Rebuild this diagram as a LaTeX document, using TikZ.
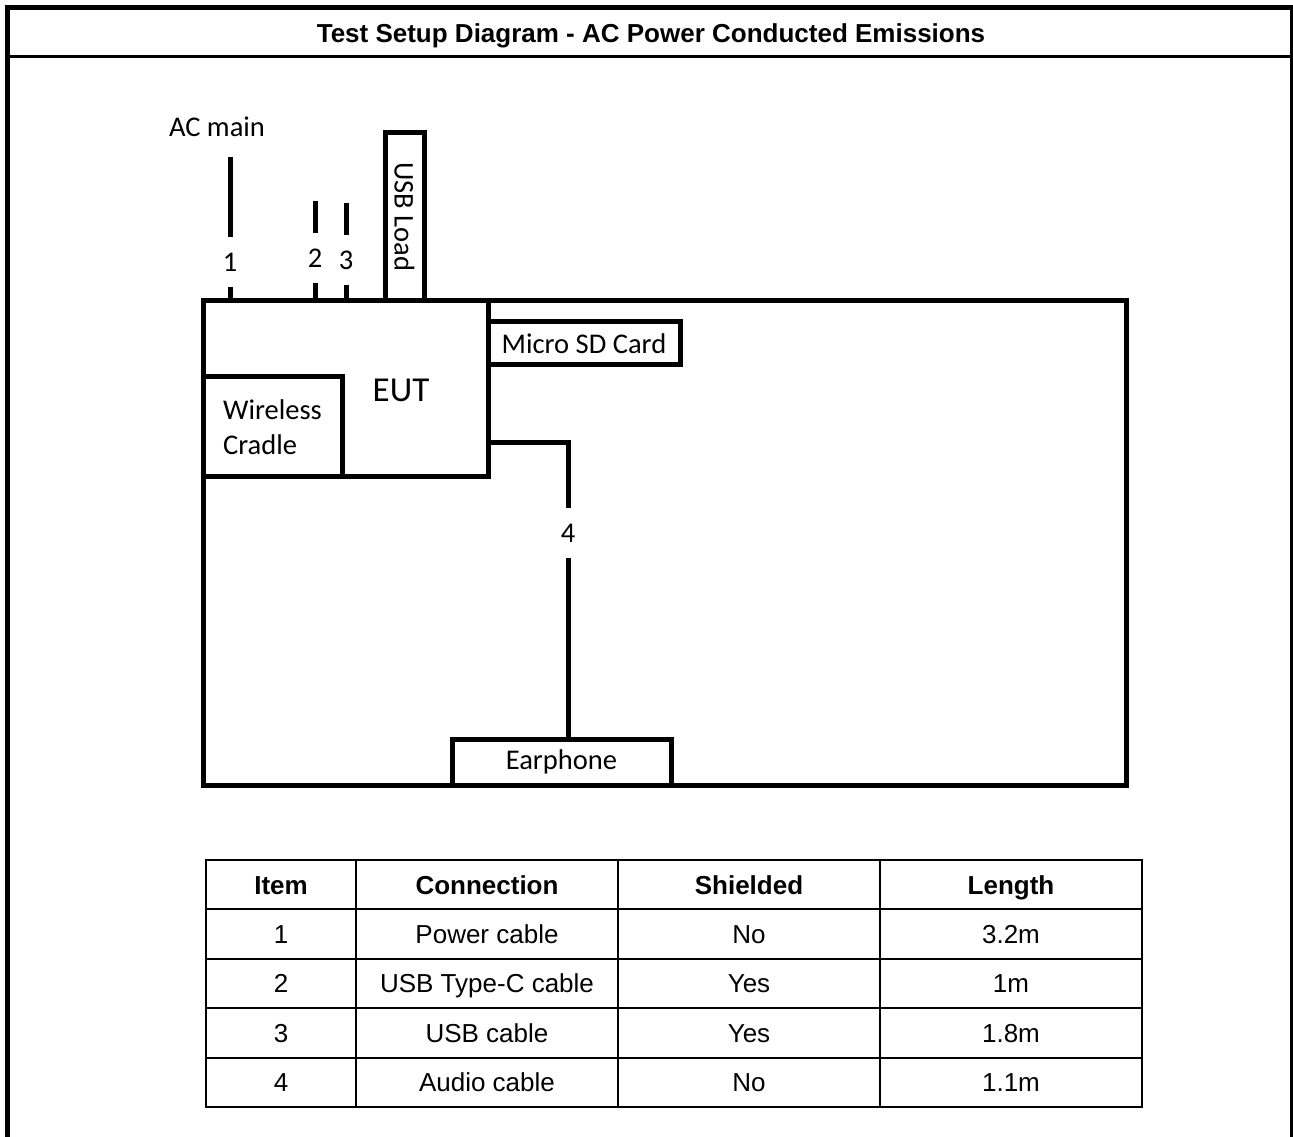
\documentclass[tikz,border=0pt]{standalone}
\usepackage{fontspec}
\setmainfont{Liberation Sans}
\newfontfamily\calfont{Carlito}
\begin{document}
\begin{tikzpicture}[x=0.75pt,y=-0.75pt,
  cable/.style={line width=3.75pt},
  box/.style={draw, line width=3.75pt, inner sep=0pt, outer sep=0pt},
  txt/.style={font=\calfont\fontsize{21.4pt}{26.25pt}\selectfont, inner sep=0pt},
  lbl/.style={font=\calfont\fontsize{21.4pt}{26.25pt}\selectfont, inner sep=0pt, outer sep=0pt, minimum height=37.5pt},
  cell/.style={draw, line width=1.5pt, inner sep=0pt, outer sep=0pt, minimum height=37.05pt,
    font=\fontsize{19.5pt}{23pt}\selectfont, text height=13.96pt, text depth=0pt},
  hcell/.style={cell, font=\bfseries\fontsize{19.5pt}{23pt}\selectfont},
  cA/.style={minimum width=112.5pt},
  cB/.style={minimum width=196.5pt}
]
\useasboundingbox (0,0) rectangle (1293,1137);
% outer frame
\draw[line width=3.75pt] (7.5,1140) -- (7.5,8) -- (1292,8) -- (1292,1140);
\draw[line width=2.25pt] (7.5,57) -- (1292,57);
\node[font=\bfseries\fontsize{19.5pt}{23pt}\selectfont, inner sep=0pt, text height=13.96pt, text depth=0pt] (title) at (651,33) {Test Setup Diagram - AC Power Conducted Emissions};

% boxes
\node[box, minimum width=692.25pt, minimum height=363pt] (main) at (664.5,543) {};
\node[box, minimum width=213.75pt, minimum height=132pt] (eut) at (345.5,389) {};
\node[txt, font=\calfont\fontsize{26.25pt}{30pt}\selectfont] (eutlbl) at (401,390) {EUT};
\node[box, txt, align=left, minimum width=104.25pt, minimum height=75pt] (cradle) at (272.5,427) {Wireless\\Cradle};
\node[box, txt, minimum width=144pt, minimum height=32.25pt] (sd) at (584,343.5) {Micro SD Card};
\node[box, txt, rotate=-90, minimum width=126pt, minimum height=29.25pt] (usb) at (404.5,217) {USB Load};
\node[box, txt, minimum width=164.25pt, minimum height=34.5pt] (ear) at (561.5,762) {Earphone};
\node[txt] (acmain) at (217,127) {AC main};

% cables
\coordinate (c1) at (230,157);
\node[lbl] (l1) at (230,262) {1};
\draw[cable] (c1) -- (l1.north);
\draw[cable] (l1.south) -- (l1.south |- main.north);

\coordinate (c2) at (315,201);
\node[lbl] (l2) at (315,258) {2};
\draw[cable] (c2) -- (l2.north);
\draw[cable] (l2.south) -- (l2.south |- main.north);

\coordinate (c3) at (346,203);
\node[lbl] (l3) at (346,260) {3};
\draw[cable] (c3) -- (l3.north);
\draw[cable] (l3.south) -- (l3.south |- main.north);

\coordinate (b4) at (568,443);
\node[lbl] (l4) at (568,533) {4};
\draw[cable] (eut.east |- b4) -- (b4) -- (l4.north);
\draw[cable] (l4.south) -- (l4.south |- ear.north);

% table
\node[hcell, cA] (h1) at (281,884.7) {Item};
\node[hcell, cB] (h2) at (487,884.7) {Connection};
\node[hcell, cB] (h3) at (749,884.7) {Shielded};
\node[hcell, cB] (h4) at (1011,884.7) {Length};
\foreach \r/\y/\a/\b/\c/\d in {1/934.1/1/Power cable/No/3.2m,
                              2/983.5/2/USB Type-C cable/Yes/1m,
                              3/1032.9/3/USB cable/Yes/1.8m,
                              4/1082.3/4/Audio cable/No/1.1m}{
  \node[cell, cA] (r\r c1) at (281,\y) {\a};
  \node[cell, cB] (r\r c2) at (487,\y) {\b};
  \node[cell, cB] (r\r c3) at (749,\y) {\c};
  \node[cell, cB] (r\r c4) at (1011,\y) {\d};
}
\end{tikzpicture}
\end{document}
